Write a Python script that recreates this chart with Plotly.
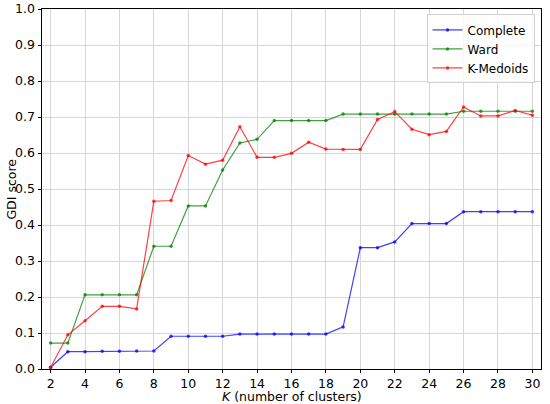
import plotly.graph_objects as go

k_values = list(range(2, 31))

complete = [0.005, 0.048, 0.048, 0.049, 0.049, 0.050, 0.050, 0.091, 0.091, 0.091,
            0.091, 0.097, 0.097, 0.097, 0.097, 0.097, 0.097, 0.117, 0.337, 0.337,
            0.353, 0.404, 0.404, 0.404, 0.437, 0.437, 0.437, 0.437, 0.437]

ward = [0.072, 0.072, 0.206, 0.206, 0.206, 0.206, 0.341, 0.341, 0.453, 0.453,
        0.553, 0.628, 0.638, 0.690, 0.690, 0.690, 0.690, 0.708, 0.708, 0.708,
        0.708, 0.708, 0.708, 0.708, 0.716, 0.716, 0.716, 0.716, 0.716]

kmedoids = [0.004, 0.095, 0.134, 0.174, 0.174, 0.167, 0.466, 0.468, 0.593, 0.569,
            0.580, 0.673, 0.588, 0.588, 0.599, 0.630, 0.611, 0.610, 0.610, 0.693,
            0.715, 0.666, 0.651, 0.660, 0.728, 0.703, 0.703, 0.718, 0.705]

series = [("Complete", complete, "rgba(0,0,255,0.75)"),
          ("Ward", ward, "rgba(0,128,0,0.75)"),
          ("K-Medoids", kmedoids, "rgba(255,0,0,0.75)")]

fig = go.Figure()
for name, vals, col in series:
    fig.add_trace(go.Scatter(x=k_values, y=vals, name=name, mode="lines+markers",
                             line=dict(color=col, width=1.2),
                             marker=dict(color=col, size=3.5)))

fig.update_layout(
    width=550, height=404,
    margin=dict(l=42, r=9, t=9, b=35),
    plot_bgcolor="white", paper_bgcolor="white",
    font=dict(family="DejaVu Sans", size=12.5, color="black"),
    showlegend=True,
    legend=dict(x=0.987, y=0.985, xanchor="right", yanchor="top",
                bgcolor="rgba(255,255,255,0.8)", bordercolor="#d0d0d0", borderwidth=1,
                font=dict(size=12), itemwidth=30, tracegroupgap=0),
    annotations=[
        dict(text="<i>K</i> (number of clusters)", x=0.5, y=-0.075, xref="paper", yref="paper",
             xanchor="center", yanchor="middle", showarrow=False, font=dict(size=12.5)),
        dict(text="GDI score", x=-0.063, y=0.5, xref="paper", yref="paper", textangle=-90,
             xanchor="center", yanchor="middle", showarrow=False, font=dict(size=12.5)),
    ],
)
fig.update_xaxes(range=[1.5, 30.5], tickmode="array", tickvals=list(range(2, 31, 2)),
                 showgrid=True, gridcolor="#d6d6d6", gridwidth=1, automargin=False,
                 showline=True, linecolor="black", linewidth=1, mirror=True,
                 ticks="outside", ticklen=2.5, tickcolor="black", zeroline=False)
fig.update_yaxes(range=[0, 1.0], tickmode="array", tickvals=[i / 10 for i in range(11)],
                 tickformat=".1f", automargin=False,
                 showgrid=True, gridcolor="#d6d6d6", gridwidth=1,
                 showline=True, linecolor="black", linewidth=1, mirror=True,
                 ticks="outside", ticklen=3.5, tickcolor="black", zeroline=False)

# page body has an 8px default margin; drop it so the figure sits at the window corner
fig.write_html("out.html", config={"displayModeBar": False},
               post_script="document.body.style.margin = '0';")
